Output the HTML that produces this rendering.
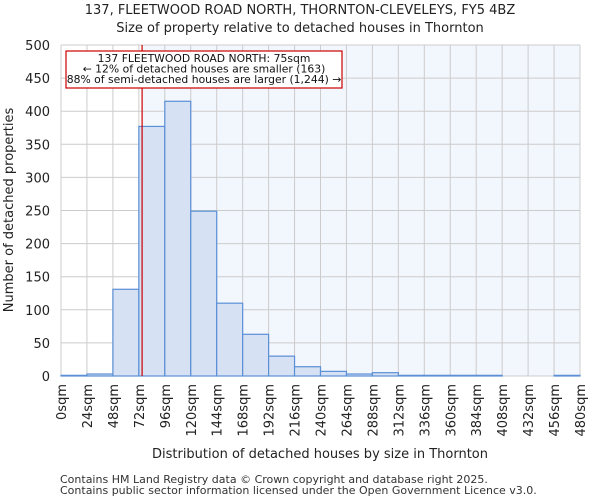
<!DOCTYPE html>
<html><head><meta charset="utf-8"><style>
body{margin:0;background:#fff;}
svg{display:block;font-family:"DejaVu Sans","Liberation Sans",sans-serif;}
</style></head><body>
<svg id="c" width="600" height="500"></svg>
<script>
const binStarts=[0,24,48,72,96,120,144,168,192,216,240,264,288,312,336,360,384,408,432,456];
const counts=[1,3,131,377,415,249,110,63,30,14,7,3,5,1,1,1,1,0,0,1];
const yTicks=[0,50,100,150,200,250,300,350,400,450,500];
const xTicks=[0,24,48,72,96,120,144,168,192,216,240,264,288,312,336,360,384,408,432,456,480];
const propertySize=75;
const L=61,R=580,T=45,B=376;
const xs=v=>L+(v/480)*(R-L);
const ys=v=>B-(v/500)*(B-T);
const svg=document.getElementById('c');
const NS='http://www.w3.org/2000/svg';
function mk(tag,attrs,parent){const e=document.createElementNS(NS,tag);for(const k in attrs)e.setAttribute(k,attrs[k]);(parent||svg).appendChild(e);return e;}
let e;
e=mk('rect',{x:xs(propertySize),y:T,width:R-xs(propertySize),height:B-T,fill:'#f2f6fd'});


xTicks.forEach(t=>{e=mk('line',{x1:xs(t),x2:xs(t),y1:T,y2:B,stroke:'#cccccc','stroke-width':1});

});
yTicks.forEach(t=>{e=mk('line',{x1:L,x2:R,y1:ys(t),y2:ys(t),stroke:'#cccccc','stroke-width':1});

});
binStarts.forEach((s,i)=>{e=mk('rect',{x:xs(s),y:ys(counts[i]),width:xs(s+24)-xs(s),height:B-ys(counts[i]),fill:'#d6e1f3',stroke:'#5b8fd6','stroke-width':1.2});

});
e=mk('line',{x1:xs(propertySize),x2:xs(propertySize),y1:T,y2:B,stroke:'#cc0000','stroke-width':1.2});


yTicks.forEach(t=>{e=mk('text',{x:L-11,y:ys(t)+5,'text-anchor':'end','font-size':13,fill:'#222'});e.textContent=t;

});
xTicks.forEach(t=>{e=mk('text',{transform:`translate(${xs(t)+5},384) rotate(-90)`,'text-anchor':'end','font-size':13,fill:'#222'});e.textContent=t+'sqm';

});
e=mk('rect',{x:66,y:51,width:276,height:37,fill:'#fff',stroke:'#cc0000','stroke-width':1.2});


['137 FLEETWOOD ROAD NORTH: 75sqm','← 12% of detached houses are smaller (163)','88% of semi-detached houses are larger (1,244) →'].forEach((s,i)=>{
e=mk('text',{x:204,y:62+i*10.5,'text-anchor':'middle','font-size':10.8,fill:'#111'});e.textContent=s;

});
e=mk('text',{x:300,y:14,'text-anchor':'middle','font-size':13,fill:'#222'});e.textContent='137, FLEETWOOD ROAD NORTH, THORNTON-CLEVELEYS, FY5 4BZ';


e=mk('text',{x:300,y:32,'text-anchor':'middle','font-size':13,fill:'#222'});e.textContent='Size of property relative to detached houses in Thornton';


e=mk('text',{x:320,y:458,'text-anchor':'middle','font-size':13,fill:'#222'});e.textContent='Distribution of detached houses by size in Thornton';


e=mk('text',{transform:'translate(13,210) rotate(-90)','text-anchor':'middle','font-size':13,fill:'#222'});e.textContent='Number of detached properties';


e=mk('text',{x:60,y:483,'font-size':11,fill:'#333'});e.textContent='Contains HM Land Registry data © Crown copyright and database right 2025.';


e=mk('text',{x:60,y:494,'font-size':11,fill:'#333'});e.textContent='Contains public sector information licensed under the Open Government Licence v3.0.';


</script>
</body></html>
